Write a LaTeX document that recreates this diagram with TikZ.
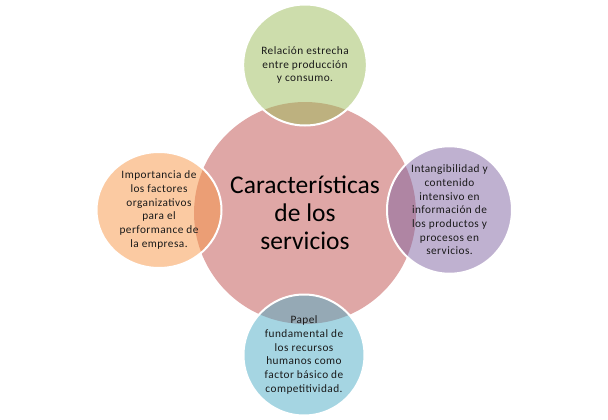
\documentclass[tikz,border=0pt]{standalone}
\usepackage{fontspec}
\setmainfont{Carlito}
\newfontfamily\satfont[LetterSpace=4]{Carlito}
\usetikzlibrary{shapes.geometric}
\definecolor{cred}{HTML}{C0504D}
\definecolor{cgreen}{HTML}{9BBB59}
\definecolor{corange}{HTML}{F79646}
\definecolor{cpurple}{HTML}{8064A2}
\definecolor{cblue}{HTML}{4BACC6}
\definecolor{ctext}{HTML}{1A1A1A}
\tikzset{
  hub/.style={circle, minimum size=222pt, inner sep=0pt, fill=cred, fill opacity=0.5, text opacity=1, draw=none,
    align=center, font=\fontsize{25.5}{27.8}\selectfont, text=black},
  sat/.style={ellipse, inner sep=0pt, fill opacity=0.5, text opacity=1, draw=white, draw opacity=1, line width=2pt,
    align=center, font=\satfont\fontsize{11.3}{13.7}\selectfont, text=ctext},
  vsat/.style={sat, minimum width=121pt, minimum height=121pt},
  hsat/.style={sat, minimum width=125pt, minimum height=116pt},
}
\begin{document}
\begin{tikzpicture}[x=1pt,y=-1pt]
\useasboundingbox (0,0) rectangle (608,420);
\node[hub] (hub) at (305,213) {Características\\de los\\servicios};
\node[vsat, fill=cgreen] (top) at (305,65) {Relación estrecha\\entre producción\\y consumo.};
\node[hsat, fill=corange] (left) at (159,210) {Importancia de\\los factores\\organizativos\\para el\\performance de\\la empresa.};
\node[hsat, fill=cpurple] (right) at (449.5,210) {Intangibilidad y\\contenido\\intensivo en\\información de\\los productos y\\procesos en\\servicios.};
\node[vsat, fill=cblue] (bottom) at (304,355) {Papel\\fundamental de\\los recursos\\humanos como\\factor básico de\\competitividad.};
\end{tikzpicture}
\end{document}
